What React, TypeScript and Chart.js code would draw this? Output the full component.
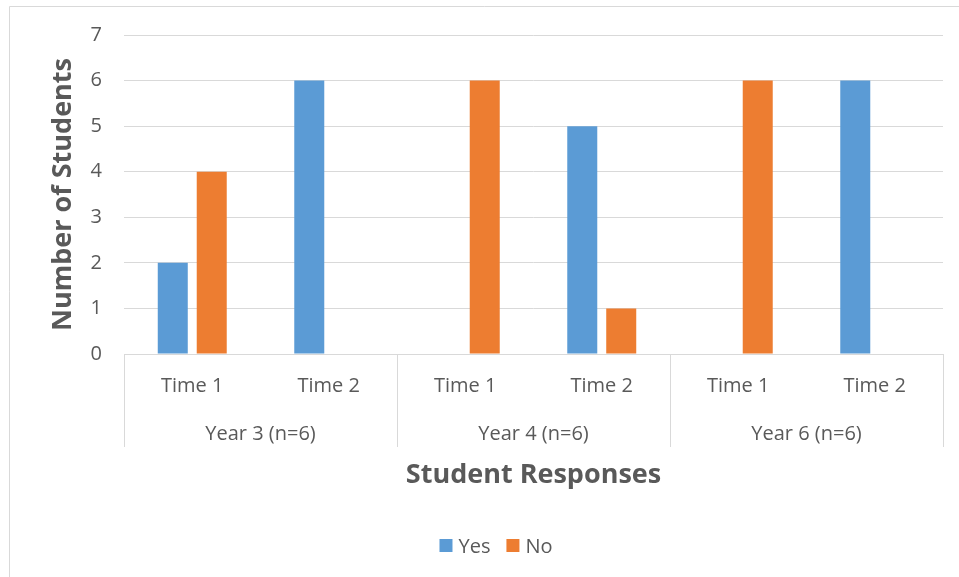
import React, { useEffect, useRef } from "react";
import { Chart, registerables } from "chart.js";

Chart.register(...registerables);

const categories = ["Time 1", "Time 2", "Time 1", "Time 2", "Time 1", "Time 2"];
const groups = ["Year 3 (n=6)", "Year 4 (n=6)", "Year 6 (n=6)"];
const yesValues = [2, 6, 0, 5, 0, 6];
const noValues = [4, 0, 6, 1, 6, 0];
const seriesNames = ["Yes", "No"];
const seriesColors = ["#5B9BD5", "#ED7D31"];
const yMin = 0;
const yMax = 7;
const yStep = 1;
const yTitle = "Number of Students";
const xTitle = "Student Responses";

const FONT = "'Open Sans', 'DejaVu Sans', sans-serif";
const TEXT = "#595959";
const LINE = "#D9D9D9";

const decorPlugin = {
  id: "decor",
  beforeDraw(chart: any) {
    const { ctx, width, height } = chart;
    ctx.save();
    ctx.fillStyle = "#ffffff";
    ctx.fillRect(0, 0, width, height);
    ctx.strokeStyle = LINE;
    ctx.lineWidth = 1;
    ctx.beginPath();
    ctx.moveTo(9.5, height);
    ctx.lineTo(9.5, 6.5);
    ctx.lineTo(width, 6.5);
    ctx.stroke();
    ctx.restore();
  },
  afterDraw(chart: any) {
    const { ctx, chartArea } = chart;
    const xs = chart.scales.x;
    const bottom = chartArea.bottom;
    ctx.save();
    // category labels
    ctx.fillStyle = TEXT;
    ctx.font = `20px ${FONT}`;
    ctx.textAlign = "center";
    ctx.textBaseline = "alphabetic";
    categories.forEach((c, i) => {
      ctx.fillText(c, xs.getPixelForValue(i), bottom + 38);
    });
    // group separators & labels
    const per = categories.length / groups.length;
    ctx.strokeStyle = LINE;
    ctx.lineWidth = 1;
    ctx.beginPath();
    for (let g = 0; g <= groups.length; g++) {
      const px = Math.round(xs.getPixelForValue(g * per - 0.5)) + 0.5;
      ctx.moveTo(px, bottom);
      ctx.lineTo(px, bottom + 93);
    }
    ctx.stroke();
    groups.forEach((g, gi) => {
      const cx = xs.getPixelForValue(gi * per + (per - 1) / 2);
      ctx.fillText(g, cx, bottom + 86);
    });
    // x title
    ctx.font = `bold 27px ${FONT}`;
    ctx.fillText(xTitle, (chartArea.left + chartArea.right) / 2, bottom + 129);
    // legend
    ctx.font = `20px ${FONT}`;
    const box = 13;
    const gapText = 6;
    const gapItem = 16;
    const widths = seriesNames.map((n) => ctx.measureText(n).width);
    const total =
      widths.reduce((a, w) => a + box + gapText + w, 0) + gapItem * (seriesNames.length - 1);
    let lx = 496 - total / 2;
    const boxTop = 539;
    ctx.textAlign = "left";
    seriesNames.forEach((n, i) => {
      ctx.fillStyle = seriesColors[i];
      ctx.fillRect(lx, boxTop, box, box);
      lx += box + gapText;
      ctx.fillStyle = TEXT;
      ctx.fillText(n, lx, boxTop + 14);
      lx += widths[i] + gapItem;
    });
    ctx.restore();
  },
};

export default function App() {
  const ref = useRef<HTMLCanvasElement | null>(null);
  useEffect(() => {
    if (!ref.current) return;
    const chart = new Chart(ref.current, {
      type: "bar",
      data: {
        labels: categories,
        datasets: [
          {
            label: seriesNames[0],
            data: yesValues,
            backgroundColor: seriesColors[0],
            borderWidth: 0,
            barPercentage: 0.77,
            categoryPercentage: 0.571,
          },
          {
            label: seriesNames[1],
            data: noValues,
            backgroundColor: seriesColors[1],
            borderWidth: 0,
            barPercentage: 0.77,
            categoryPercentage: 0.571,
          },
        ],
      },
      options: {
        responsive: false,
        animation: false,
        devicePixelRatio: 1,
        layout: { padding: { top: 35, right: 16, left: 0, bottom: 213 } },
        plugins: {
          legend: { display: false },
          tooltip: { enabled: false },
        },
        scales: {
          x: {
            grid: { display: false },
            ticks: { display: false },
            border: { display: true, color: LINE, width: 1 },
            afterFit: (s: any) => {
              s.height = 10;
            },
          },
          y: {
            min: yMin,
            max: yMax,
            ticks: {
              stepSize: yStep,
              padding: 22,
              color: TEXT,
              font: { family: FONT, size: 20 },
            },
            grid: { color: LINE, drawTicks: false, lineWidth: 1 },
            border: { display: false },
            title: {
              display: true,
              text: yTitle,
              color: TEXT,
              font: { family: FONT, size: 27, weight: "bold" },
              padding: { top: 47, bottom: 0 },
            },
            afterFit: (s: any) => {
              s.width = 124;
            },
          },
        },
      },
      plugins: [decorPlugin],
    });
    return () => chart.destroy();
  }, []);
  return (
    <div style={{ position: "fixed", left: 0, top: 0, width: 959, height: 577, background: "#fff" }}>
      <canvas ref={ref} width={959} height={577} />
    </div>
  );
}
